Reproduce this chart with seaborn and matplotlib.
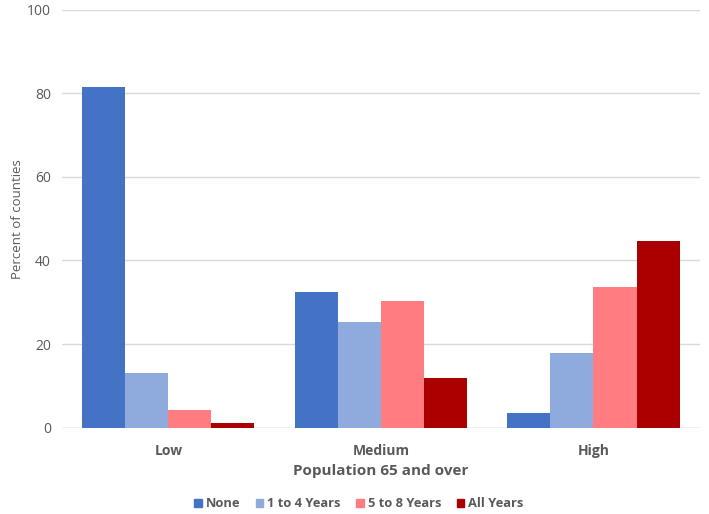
import pandas as pd
import matplotlib
matplotlib.use("Agg")
import matplotlib.pyplot as plt
import seaborn as sns

# Values
categories = ["Low", "Medium", "High"]
series = ["None", "1 to 4 Years", "5 to 8 Years", "All Years"]
none_vals = [81.5, 32.4, 3.6]
one_to_four = [13.1, 25.3, 17.9]
five_to_eight = [4.3, 30.2, 33.7]
all_years = [1.0, 11.8, 44.7]
y_ticks = [0, 20, 40, 60, 80, 100]

colors = ["#4472C4", "#8FAADC", "#FF7C80", "#AA0000"]
TEXT = "#595959"


def main():
    rows = []
    for name, vals in zip(series, [none_vals, one_to_four, five_to_eight, all_years]):
        for cat, v in zip(categories, vals):
            rows.append({"Population": cat, "Group": name, "Percent": v})
    df = pd.DataFrame(rows)

    sns.set_theme(style="white")
    plt.rcParams["font.family"] = ["Open Sans", "DejaVu Sans"]

    fig = plt.figure(figsize=(7.09, 5.14), dpi=100)
    ax = fig.add_axes([0.0875, 0.168, 0.8995, 0.8135])

    sns.barplot(
        data=df, x="Population", y="Percent", hue="Group",
        order=categories, hue_order=series, palette=colors,
        width=0.81, gap=0, saturation=1, ax=ax, legend=False,
        edgecolor="none", linewidth=0,
    )

    ax.set_ylim(0, 100)
    ax.set_xlim(-0.5, 2.5)
    ax.set_yticks(y_ticks)
    ax.yaxis.grid(True, color="#D9D9D9", linewidth=1)
    ax.set_axisbelow(True)
    for s in ax.spines.values():
        s.set_visible(False)
    ax.axhline(0, color="#D9D9D9", linewidth=1, zorder=0)
    ax.tick_params(axis="both", length=0, colors=TEXT, labelsize=10)
    ax.tick_params(axis="x", pad=12)
    for lbl in ax.get_xticklabels():
        lbl.set_fontweight("bold")
    ax.tick_params(axis="y", pad=8)

    ax.set_ylabel("Percent of counties", color=TEXT, fontsize=9.5)
    ax.yaxis.set_label_coords(-0.06, 0.5)
    ax.set_xlabel("Population 65 and over", color=TEXT, fontsize=11,
                  fontweight="bold", labelpad=4)

    handles = [plt.Rectangle((0, 0), 1, 1, color=c) for c in colors]
    leg = fig.legend(handles, series, loc="center", bbox_to_anchor=(0.506, 0.02),
                     ncol=4, frameon=False, handlelength=0.6, handleheight=0.6,
                     handletextpad=0.3, columnspacing=1.2,
                     prop={"size": 9.3, "weight": "bold"})
    for t in leg.get_texts():
        t.set_color(TEXT)

    fig.savefig("out.png", dpi=100)
    plt.close(fig)


if __name__ == "__main__":
    main()
